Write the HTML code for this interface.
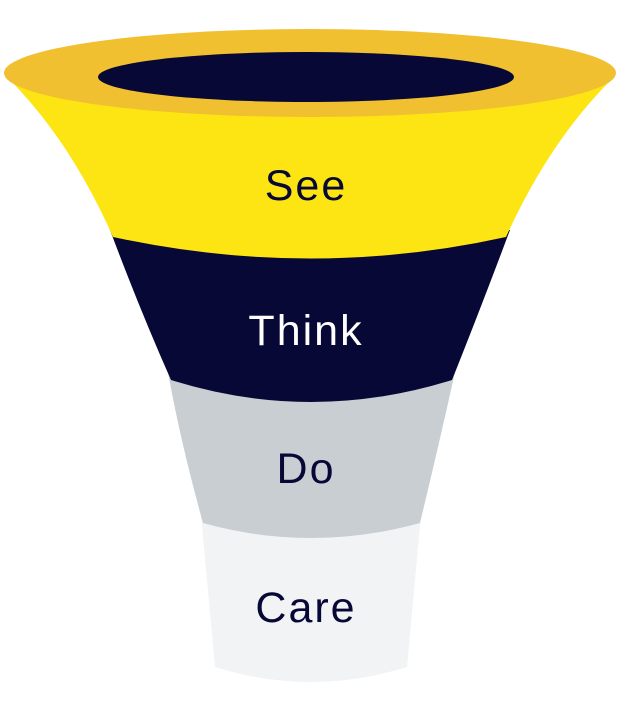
<!DOCTYPE html>
<html><head><style>
html,body{margin:0;padding:0;background:#fff;}
svg{display:block;}
text{font-family:"Liberation Sans",sans-serif;font-size:43px;text-anchor:middle;letter-spacing:2px;}
</style></head><body>
<svg width="620" height="709" viewBox="0 0 620 709">
<path d="M201,515 L215,667 Q311,697 407,667 L421,515 Z" fill="#f1f3f5"/>
<path d="M168,372 Q180,440 203,523 Q311,553 420,523 Q440,440 455,372 Z" fill="#c9ced3"/>
<path d="M110,230 Q140,310 171,380 Q311,424 452,380 Q480,310 510,230 Z" fill="#070835"/>
<path d="M8,78 Q70,140 113,237 Q311,280 506,237 Q550,140 613,78 Z" fill="#fce512"/>
<ellipse cx="310" cy="73" rx="306" ry="44" fill="#f0c030"/>
<ellipse cx="306" cy="77" rx="208" ry="25" fill="#070835"/>
<text x="306" y="200" fill="#070835">See</text>
<text x="306" y="345" fill="#ffffff">Think</text>
<text x="306" y="483" fill="#070835">Do</text>
<text x="306" y="622" fill="#070835">Care</text>
</svg>
</body></html>
